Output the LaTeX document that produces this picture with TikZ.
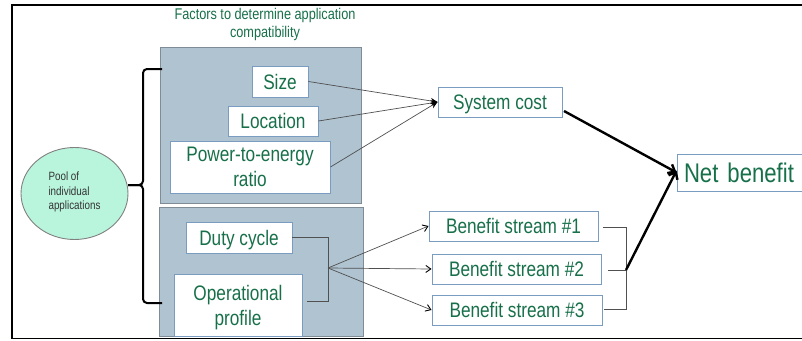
\documentclass[tikz,border=0pt]{standalone}
\usepackage{fontspec}
\newfontfamily\nf[FakeStretch=0.82]{Liberation Sans}
\usetikzlibrary{arrows.meta,shapes.geometric}
\definecolor{txtgreen}{HTML}{17704A}
\definecolor{panelfill}{HTML}{AFC3D1}
\definecolor{panelline}{HTML}{7F8C96}
\definecolor{boxline}{HTML}{7A9CC0}
\definecolor{mint}{HTML}{B9F5DD}
\definecolor{linegray}{HTML}{505050}
\begin{document}
\begin{tikzpicture}[x=1pt,y=-1pt,
  panel/.style={draw=panelline,fill=panelfill,line width=0.9pt},
  fbox/.style={draw=boxline,fill=white,line width=0.9pt,inner sep=0pt,text depth=0pt,
    text=txtgreen,font=\nf\fontsize{21}{25}\selectfont,align=center},
  thinarr/.style={draw=linegray,line width=0.7pt,-{Stealth[length=7pt,width=6pt,black]}},
  openarr/.style={draw=linegray,line width=0.7pt,-{Straight Barb[length=5pt,width=7pt,black,line width=0.9pt]}},
  thickarr/.style={draw=black,line width=2.4pt,-{Straight Barb[length=6pt,width=10pt]}},
  bracket/.style={draw=linegray,line width=1pt},
  brace/.style={draw=black,line width=2pt,rounded corners=4pt}]
\useasboundingbox (0,0) rectangle (802,340);
% frame
\draw[line width=1.3pt] (12,5) rectangle (830,338.5);
% panels
\draw[panel] (160,47) rectangle (361,203);
\draw[panel] (159,207) rectangle (363,336);
% title
\node[text=txtgreen,font=\nf\fontsize{15.5}{18}\selectfont,align=center] (title) at (265,24) {Factors to determine application\\compatibility};
% circle
\node[draw=gray,fill=mint,line width=0.9pt,ellipse,minimum width=107pt,minimum height=92pt,inner sep=0pt] (pool) at (74.5,193.5) {};
\node[anchor=west,align=left,text=black!80,font=\nf\fontsize{12}{14.5}\selectfont] (pooltxt) at (45,192) {Pool of\\individual\\applications};
% factor boxes
\node[fbox,minimum width=56pt,minimum height=31pt] (size) at (280,81.5) {Size};
\node[fbox,minimum width=90pt,minimum height=30pt] (loc) at (273,121) {Location};
\node[fbox,minimum width=160pt,minimum height=52pt] (power) at (250,167) {Power-to-energy\\ratio};
\node[fbox,minimum width=106pt,minimum height=31pt] (duty) at (239,237.5) {Duty cycle};
\node[fbox,minimum width=128pt,minimum height=62pt] (oper) at (238,305) {Operational\\profile};
% outcome boxes
\node[fbox,minimum width=124pt,minimum height=30pt] (cost) at (500,102) {System cost};
\node[fbox,minimum width=150pt,minimum height=37pt,text width=140pt,align=left,font=\nf\fontsize{27}{30}\selectfont] (net) at (752,172.5) {\hspace*{2pt}Net benefit};
\node[fbox,minimum width=169pt,minimum height=30pt] (b1) at (513.5,226) {Benefit stream \#1};
\node[fbox,minimum width=169pt,minimum height=30pt] (b2) at (516.5,269) {Benefit stream \#2};
\node[fbox,minimum width=170pt,minimum height=30pt] (b3) at (517,310) {Benefit stream \#3};
% brace
\coordinate (btop) at (162,69);
\coordinate (bbot) at (162,303);
\coordinate (btip) at (128,185);
\draw[brace] (btop) -- (143,69) -- (143,185) -- (btip);
\draw[brace] (btip) -- (143,185) -- (143,303) -- (bbot);
% factors to system cost
\draw[thinarr] (size.east) -- (cost.west);
\draw[thinarr] (loc.east) -- (cost.west);
\draw[thinarr] (power.east) -- (cost.west);
% duty/operational bracket
\coordinate (j) at (328,268);
\draw[bracket] (duty.east) -- (328,237.5) -- (328,301) -- (307,301);
\draw[openarr] (j) -- (b1.west);
\draw[openarr] (j) -- (b2.west);
\draw[openarr] (j) -- (b3.west);
% benefit bracket
\coordinate (k) at (626,270);
\draw[bracket] (603,227) -- (626,227) -- (626,309) -- (604,309);
\draw[bracket] (608,270) -- (k);
% thick arrows
\draw[thickarr] (564,111) -- (net.west);
\draw[thickarr] (k) -- ([yshift=2pt]net.west);
\end{tikzpicture}
\end{document}
